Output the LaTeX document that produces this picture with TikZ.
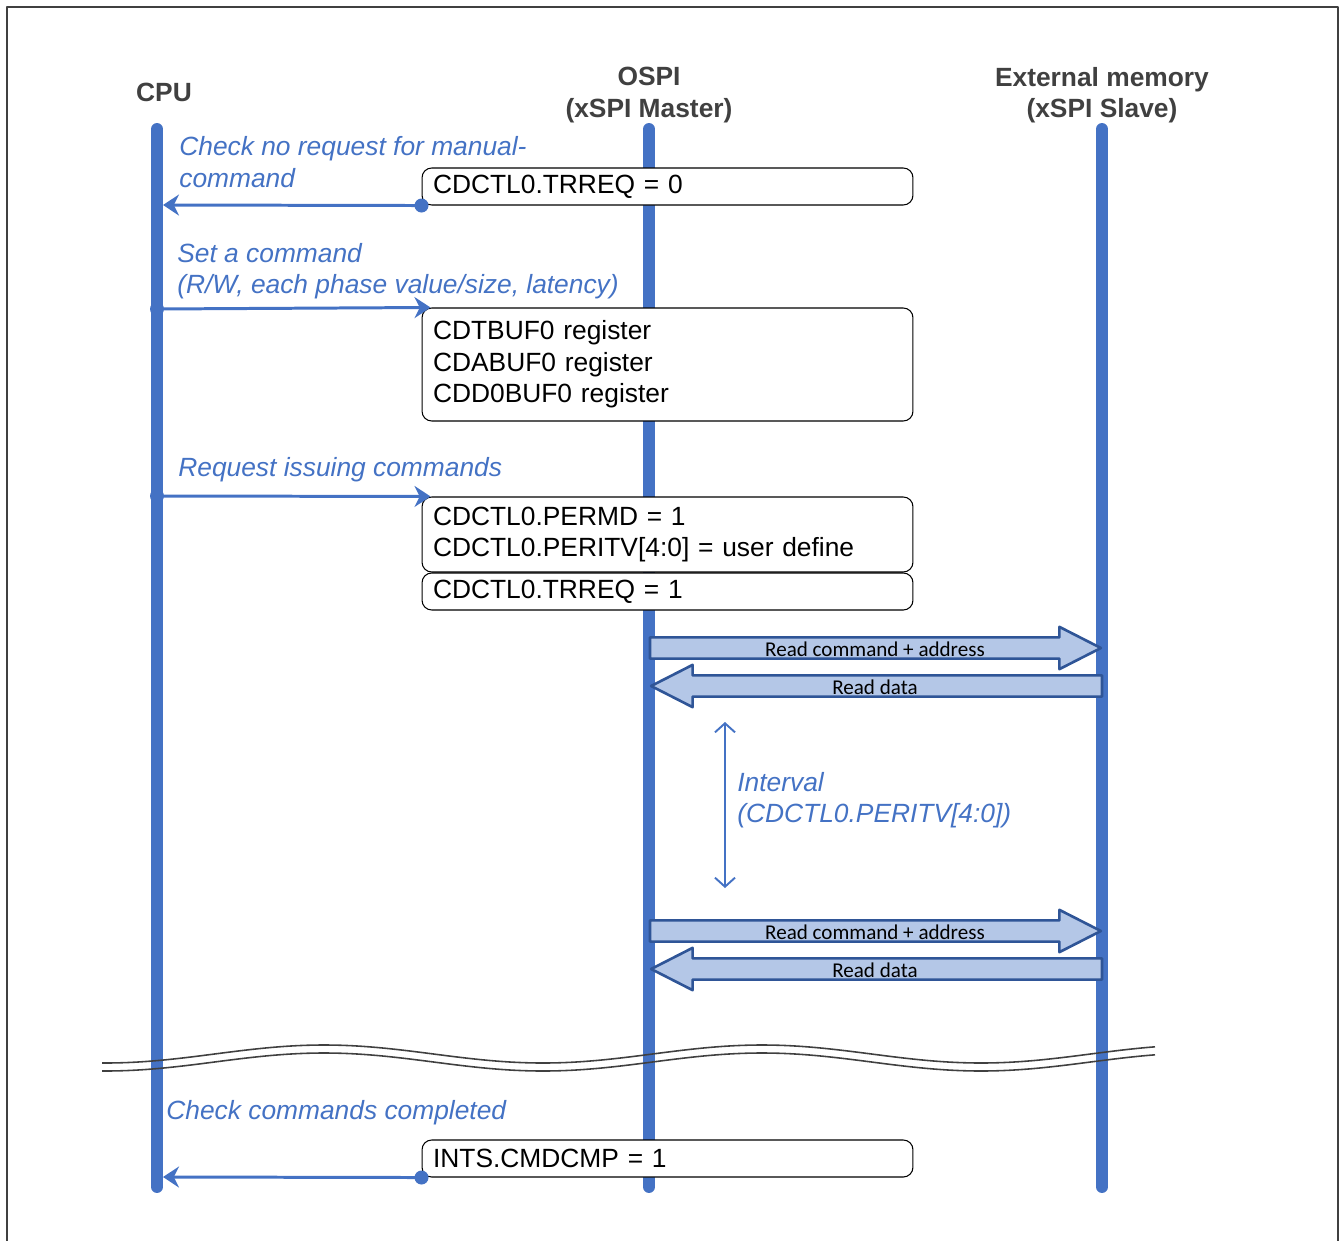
\documentclass[tikz,border=0pt]{standalone}
\usepackage{fontspec}
\setmainfont{Liberation Sans}
\newfontfamily\calibrifont{Carlito}
\usepackage{tikz}
\usetikzlibrary{arrows.meta,calc,shapes.arrows}
\definecolor{ospiblue}{HTML}{4472C4}
\definecolor{blockfill}{HTML}{B4C7E7}
\definecolor{blockline}{HTML}{2F5597}
\definecolor{framegray}{HTML}{404040}
\newcommand\regfont{\fontsize{15}{18}\selectfont}
\newcommand\notefont{\fontsize{15}{18}\selectfont\itshape}
\newcommand\headfont{\fontsize{15}{18}\selectfont\bfseries}
\newcommand\datafont{\calibrifont\fontsize{12}{12}\selectfont}
\tikzset{
every picture/.style={line join=round},
frame line/.style={draw=framegray, line width=1.1pt},
lifeline/.style={draw=ospiblue, line width=6.8pt, line cap=round},
head label/.style={text=framegray, font=\headfont, align=center},
note label/.style={text=ospiblue, font=\notefont, align=left, anchor=west, inner xsep=0pt},
reg box/.style={
  draw=black,
  fill=white,
  rounded corners=5.5pt,
  line width=0.6pt,
  minimum width=9.82cm,
  text width=9.38cm,
  inner xsep=0.22cm,
  align=left,
  font=\regfont
},
call flow/.style={
  draw=ospiblue,
  line width=1.7pt,
  -{Stealth[length=0.32cm,width=0.42cm]}
},
flow dot/.style={circle, fill=ospiblue, inner sep=0pt, minimum size=0.28cm},
data arrow/.style={
  single arrow,
  draw=blockline,
  fill=blockfill,
  line width=1.5pt,
  inner sep=0pt,
  text height=7.8pt,
  text depth=2.8pt,
  minimum height=9.02cm,
  single arrow head extend=0.21cm,
  single arrow tip angle=54,
  font=\datafont
},
data text/.style={font=\datafont, inner sep=0pt},
interval arrow/.style={
  draw=ospiblue,
  line width=1.1pt,
  {Straight Barb[length=0.18cm,width=0.4cm]}-{Straight Barb[length=0.18cm,width=0.4cm]}
},
break line/.style={draw=framegray, line width=0.9pt}
}
\begin{document}
\begin{tikzpicture}[x=0.02cm,y=-0.02cm]
\useasboundingbox (0,0) rectangle (1343,1241);
\draw[frame line] (7,1241) -- (7,7) -- (1338,7) -- (1338,1241);
% lifelines
\coordinate (cpu top) at (157,129);
\coordinate (cpu bot) at (157,1187);
\coordinate (ospi top) at (649,129);
\coordinate (ospi bot) at (649,1187);
\coordinate (mem top) at (1102,129);
\coordinate (mem bot) at (1102,1187);
\draw[lifeline] (cpu top) -- (cpu bot);
\draw[lifeline] (ospi top) -- (ospi bot);
\draw[lifeline] (mem top) -- (mem bot);
\node[head label] (cpu head) at (164,92) {CPU};
\node[head label] (ospi head) at (649,95) {OSPI\\(xSPI Master)};
\node[head label] (mem head) at (1102,95) {External memory\\(xSPI Slave)};
% registers
\node[reg box, minimum height=0.74cm] (trreq0) at (667.5,186.5) {CDCTL0.TRREQ = 0};
\node[reg box, minimum height=2.26cm] (cmdbuf) at (667.5,364.5) {CDTBUF0 register\\CDABUF0 register\\CDD0BUF0 register};
\node[reg box, minimum height=1.5cm] (permd) at (667.5,534.5) {CDCTL0.PERMD = 1\\CDCTL0.PERITV[4:0] = user define};
\node[reg box, minimum height=0.74cm] (trreq1) at (667.5,591.5) {CDCTL0.TRREQ = 1};
\node[reg box, minimum height=0.74cm] (cmdcmp) at (667.5,1158.5) {INTS.CMDCMP = 1};
% CPU accesses
\node[note label] (check note) at (179,162) {Check no request for manual-\\command};
\node[flow dot] (dot trreq0) at (trreq0.south west) {};
\coordinate (cpu in1) at (163,205);
\draw[call flow] (dot trreq0.center) -- (cpu in1);
\node[note label] (set note) at (177,271) {Set a command\\(R/W, each phase value/size, latency)};
\node[flow dot] (dot set) at (157,309) {};
\draw[call flow] (dot set.center) -- ($(cmdbuf.north west)+(9,0)$);
\node[note label] (req note) at (178,470) {Request issuing commands};
\node[flow dot] (dot req) at (157,496) {};
\draw[call flow] (dot req.center) -- ($(permd.north west)+(9,0)$);
\node[note label] (done note) at (166,1113) {Check commands completed};
\node[flow dot] (dot cmdcmp) at (cmdcmp.south west) {};
\coordinate (cpu in2) at (163,1177);
\draw[call flow] (dot cmdcmp.center) -- (cpu in2);
% xSPI transfers
\node[data arrow] (rd cmd1) at (865,648) {\phantom{Read command + address}};
\node[data text] (rd cmd1 text) at (875,649) {Read command + address};
\node[data arrow, shape border rotate=180] (rd data1) at (887,686) {\phantom{Read data}};
\node[data text] (rd data1 text) at (875,687) {Read data};
\node[data arrow] (rd cmd2) at (865,931) {\phantom{Read command + address}};
\node[data text] (rd cmd2 text) at (875,932) {Read command + address};
\node[data arrow, shape border rotate=180] (rd data2) at (887,969) {\phantom{Read data}};
\node[data text] (rd data2 text) at (875,970) {Read data};
\coordinate (ivl top) at (725,722);
\coordinate (ivl bot) at (725,888);
\draw[interval arrow] (ivl top) -- (ivl bot);
\node[note label] (ivl note) at (737,800) {Interval\\(CDCTL0.PERITV[4:0])};
% time break
\draw[break line] plot[domain=102:1155,samples=120,smooth] (\x,{1054-9*cos(((\x-324)/438)*360)});
\draw[break line] plot[domain=102:1155,samples=120,smooth] (\x,{1062-9*cos(((\x-324)/438)*360)});
\end{tikzpicture}
\end{document}
